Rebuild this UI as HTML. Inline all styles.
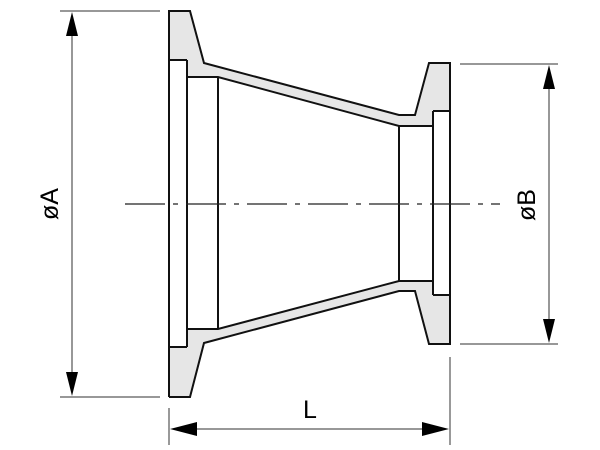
<!DOCTYPE html>
<html><head><style>body{margin:0;background:#fff}svg{display:block}</style></head><body>
<svg width="600" height="450" viewBox="0 0 600 450" xmlns="http://www.w3.org/2000/svg">
<g fill="#e6e6e6" stroke="none">
<polygon points="169,11 190,11 204,63 399,115 415,115 429,63 450,63 450,111 433,111 433,126 399,126 218,77 187,77 187,60 169,60"/>
<polygon points="169,397 190,397 204,343 399,291 415,291 429,344 450,344 450,295 433,295 433,281 399,281 218,329 187,329 187,347 169,347"/>
</g>
<g fill="none" stroke="#111" stroke-width="2" stroke-linejoin="miter">
<polyline points="169,60 169,11 190,11 204,63 399,115 415,115 429,63 450,63 450,111 433,111"/>
<polyline points="187,60 169,60"/>
<polyline points="187,60 187,347"/>
<polyline points="169,11 169,397"/>
<polyline points="187,77 218,77 399,126 433,126"/>
<polyline points="169,397 190,397 204,343 399,291 415,291 429,344 450,344 450,295 433,295"/>
<polyline points="169,347 187,347"/>
<polyline points="187,329 218,329 399,281 433,281"/>
<line x1="218" y1="77" x2="218" y2="329"/>
<line x1="399" y1="126" x2="399" y2="281"/>
<line x1="433" y1="111" x2="433" y2="295"/>
<line x1="450" y1="111" x2="450" y2="295"/>
</g>
<line x1="125" y1="204" x2="500" y2="204" stroke="#222" stroke-width="1.3" stroke-dasharray="40,8,5,8"/>
<g stroke="#777" stroke-width="1.5">
<line x1="60" y1="11" x2="160" y2="11"/>
<line x1="60" y1="397" x2="160" y2="397"/>
<line x1="72" y1="22" x2="72" y2="386"/>
<line x1="460" y1="64" x2="558" y2="64"/>
<line x1="460" y1="344" x2="558" y2="344"/>
<line x1="549" y1="75" x2="549" y2="333"/>
<line x1="169" y1="408" x2="169" y2="445"/>
<line x1="450" y1="357" x2="450" y2="445"/>
<line x1="180" y1="429" x2="439" y2="429"/>
</g>
<g fill="#000">
<polygon points="72,12 66,36 78,36"/>
<polygon points="72,396 66,372 78,372"/>
<polygon points="549,65 543,89 555,89"/>
<polygon points="549,343 543,319 555,319"/>
<polygon points="170,429 197,422 197,436"/>
<polygon points="449,429 422,422 422,436"/>
</g>
<g font-family="Liberation Sans, sans-serif" font-size="25" fill="#000" text-anchor="middle">
<text x="310" y="418">L</text>
<text transform="translate(58,204) rotate(-90)">øA</text>
<text transform="translate(535,205) rotate(-90)">øB</text>
</g>
</svg>
</body></html>
